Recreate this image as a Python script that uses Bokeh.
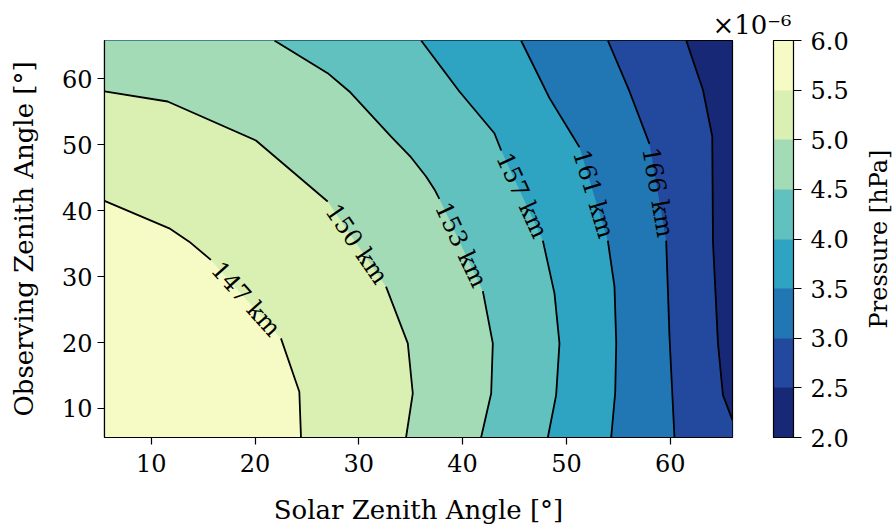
import math
from bokeh.plotting import figure
from bokeh.layouts import row
from bokeh.models import (Range1d, ColumnDataSource, ColorBar, LinearColorMapper,
                          FixedTicker, PrintfTickFormatter, Title)
from bokeh.core.properties import value
from bokeh.embed import file_html
from bokeh.resources import INLINE

# ---------------- data ----------------
# pressure levels, in units of 1e-6 hPa
levels = [2.0, 2.5, 3.0, 3.5, 4.0, 4.5, 5.0, 5.5, 6.0]
band_colors = ["#172976", "#23499e", "#2077b4", "#2fa3c2",
               "#60c1bf", "#a3dbb7", "#daf0b2", "#f6fbc5"]

# contour lines: Solar Zenith Angle (x) / Observing Zenith Angle (y) in degrees
c25_x = [61.54, 63.15, 64.05, 64.12, 64.60, 65.08, 66.0]
c25_y = [65.8, 58.33, 51.24, 35.30, 19.87, 12.03, 8.24]

c30_x = [53.99, 56.08, 58.00, 59.61, 59.93, 60.41]
c30_y = [65.8, 58.07, 50.13, 35.45, 20.88, 5.6]

c35_x = [45.63, 48.37, 51.26, 53.99, 54.63, 54.80, 54.70, 54.31]
c35_y = [65.8, 57.06, 49.62, 35.45, 28.47, 19.87, 12.38, 5.6]

c40_x = [36.00, 39.69, 43.06, 43.72, 47.73, 48.85, 49.33, 49.01, 48.21]
c40_y = [65.8, 58.07, 51.74, 49.12, 35.46, 27.46, 19.87, 12.03, 5.6]

c45_x = [21.86, 27.00, 29.09, 33.11, 35.04, 36.48, 37.35, 37.76, 41.95, 42.91, 42.75, 41.78]
c45_y = [65.8, 60.85, 58.07, 51.24, 48.06, 45.17, 43.04, 41.79, 27.79, 19.87, 12.28, 5.6]

c50_x = [5.5, 11.58, 20.09, 27.00, 32.62, 34.72, 35.20, 34.55]
c50_y = [58.07, 56.55, 50.63, 41.38, 28.47, 19.87, 12.28, 5.6]

c55_x = [5.5, 11.74, 13.66, 15.75, 22.50, 24.27, 24.43]
c55_y = [41.48, 37.32, 35.30, 32.53, 20.63, 12.54, 5.6]

line_levels = [2.5, 3.0, 3.5, 4.0, 4.5, 5.0, 5.5]
line_xs = [c25_x, c30_x, c35_x, c40_x, c45_x, c50_x, c55_x]
line_ys = [c25_y, c30_y, c35_y, c40_y, c45_y, c50_y, c55_y]
# contour labels (altitude) and the segment of each line that carries the label
line_labels = [None, "166 km", "161 km", "157 km", "153 km", "150 km", "147 km"]
label_segment = [None, 2, 2, 3, 7, 3, 3]

cbar_ticks = [2.0, 2.5, 3.0, 3.5, 4.0, 4.5, 5.0, 5.5, 6.0]
x_ticks = [10, 20, 30, 40, 50, 60]
y_ticks = [10, 20, 30, 40, 50, 60]

# ---------------- layout ----------------
XMIN, XMAX = 5.5, 66.0
YMIN, YMAX = 5.6, 65.8
W_TOTAL, H = 893, 530
W2 = 31                      # strip on the right that carries the colour-bar label
W = W_TOTAL - W2
BL, BT = 104, 40
FW, FH = 628, 397
BR, BB = W - BL - FW, H - BT - FH
FONT = "DejaVu Serif"
TICK_FS = "24px"
LABEL_FS = "26px"
CLABEL_FS = "24px"
CBLABEL_FS = "24px"

sx = FW / (XMAX - XMIN)
sy = FH / (YMAX - YMIN)

p = figure(width=W, height=H, output_backend="svg", toolbar_location=None,
           x_range=Range1d(XMIN, XMAX), y_range=Range1d(YMIN, YMAX),
           min_border_left=BL, min_border_right=BR, min_border_top=BT, min_border_bottom=BB)
p.background_fill_color = band_colors[0]
p.border_fill_color = "white"
p.outline_line_color = "black"
p.outline_line_width = 1.2
p.grid.visible = False

# filled regions (each level: area with pressure above that level)
patch_xs, patch_ys, patch_cols = [], [], []
for k, (lx, ly) in enumerate(zip(line_xs, line_ys)):
    px, py = list(lx), list(ly)
    if px[-1] >= XMAX:
        px.append(XMAX); py.append(YMIN)
    px.append(XMIN); py.append(YMIN)
    if ly[0] >= YMAX:
        px.append(XMIN); py.append(YMAX)
    patch_xs.append(px); patch_ys.append(py)
    patch_cols.append(band_colors[levels.index(line_levels[k])])
p.patches(patch_xs, patch_ys, fill_color=patch_cols, line_color=None)

# contour lines broken where the labels sit; label positions/angles
seg_xs, seg_ys = [], []
lab_x, lab_y, lab_t, lab_a = [], [], [], []
for lx, ly, lt, ls in zip(line_xs, line_ys, line_labels, label_segment):
    if ls is None:
        seg_xs.append(lx); seg_ys.append(ly)
        continue
    seg_xs.append(lx[:ls + 1]); seg_ys.append(ly[:ls + 1])
    seg_xs.append(lx[ls + 1:]); seg_ys.append(ly[ls + 1:])
    x1, y1, x2, y2 = lx[ls], ly[ls], lx[ls + 1], ly[ls + 1]
    lab_x.append((x1 + x2) / 2); lab_y.append((y1 + y2) / 2)
    lab_t.append(lt)
    lab_a.append(math.atan2((y2 - y1) * sy, (x2 - x1) * sx))
p.multi_line(seg_xs, seg_ys, line_color="black", line_width=1.8)

src = ColumnDataSource(dict(x=lab_x, y=lab_y, t=lab_t, a=lab_a))
p.text(x="x", y="y", text="t", angle="a", source=src, text_align="center",
       text_baseline="middle", text_font=value(FONT), text_font_size=CLABEL_FS,
       text_color="black")

# axes
for ax, ticks in ((p.xaxis[0], x_ticks), (p.yaxis[0], y_ticks)):
    ax.ticker = FixedTicker(ticks=ticks)
    ax.minor_tick_line_color = None
    ax.major_tick_in = 0
    ax.major_tick_out = 7
    ax.major_tick_line_color = "black"
    ax.major_tick_line_width = 1.2
    ax.axis_line_color = "black"
    ax.axis_line_width = 1.2
    ax.major_label_text_font = FONT
    ax.major_label_text_font_size = TICK_FS
    ax.major_label_text_color = "black"
    ax.axis_label_text_font = FONT
    ax.axis_label_text_font_size = LABEL_FS
    ax.axis_label_text_font_style = "normal"
    ax.axis_label_text_color = "black"
p.xaxis.major_label_standoff = 9
p.yaxis.major_label_standoff = 5
p.xaxis.axis_label = "Solar Zenith Angle [°]"
p.yaxis.axis_label = "Observing Zenith Angle [°]"
p.xaxis.axis_label_standoff = 20
p.yaxis.axis_label_standoff = 20

# colour bar
mapper = LinearColorMapper(palette=band_colors, low=levels[0], high=levels[-1])
cb = ColorBar(color_mapper=mapper, ticker=FixedTicker(ticks=cbar_ticks),
              formatter=PrintfTickFormatter(format="%.1f"),
              orientation="vertical", width=20, height=FH,
              location=(FW + 41, 0), padding=0, margin=0,
              bar_line_color="black", bar_line_width=1.2,
              major_tick_in=0, major_tick_out=8, major_tick_line_color="black",
              major_tick_line_width=1.2, label_standoff=9,
              major_label_text_font=FONT, major_label_text_font_size=TICK_FS,
              major_label_text_color="black",
              background_fill_alpha=0, border_line_color=None)
p.add_layout(cb)

# scale factor of the colour bar, above it
p.add_layout(Title(text="×10⁻⁶", align="right", offset=-59, standoff=2,
                   text_font=FONT, text_font_size="26px", text_font_style="normal",
                   text_color="black"), "above")

# narrow strip whose (empty) left axis carries the colour-bar label
p2 = figure(width=W2, height=H, output_backend="svg", toolbar_location=None,
            x_range=Range1d(0, 1), y_range=Range1d(YMIN, YMAX), x_axis_location=None,
            min_border_left=W2 - 1, min_border_right=1, min_border_top=BT, min_border_bottom=BB)
p2.outline_line_color = None
p2.grid.visible = False
p2.background_fill_color = "white"
p2.border_fill_color = "white"
ax2 = p2.yaxis[0]
ax2.ticker = FixedTicker(ticks=[])
ax2.axis_line_color = None
ax2.major_tick_in = 0
ax2.major_tick_out = 0
ax2.minor_tick_line_color = None
ax2.major_label_standoff = 0
ax2.axis_label = "Pressure [hPa]"
ax2.axis_label_standoff = 0
ax2.axis_label_text_font = FONT
ax2.axis_label_text_font_size = CBLABEL_FS
ax2.axis_label_text_font_style = "normal"
ax2.axis_label_text_color = "black"

layout = row(p, p2, spacing=0)
open("out.html", "w").write(file_html(layout, INLINE))
